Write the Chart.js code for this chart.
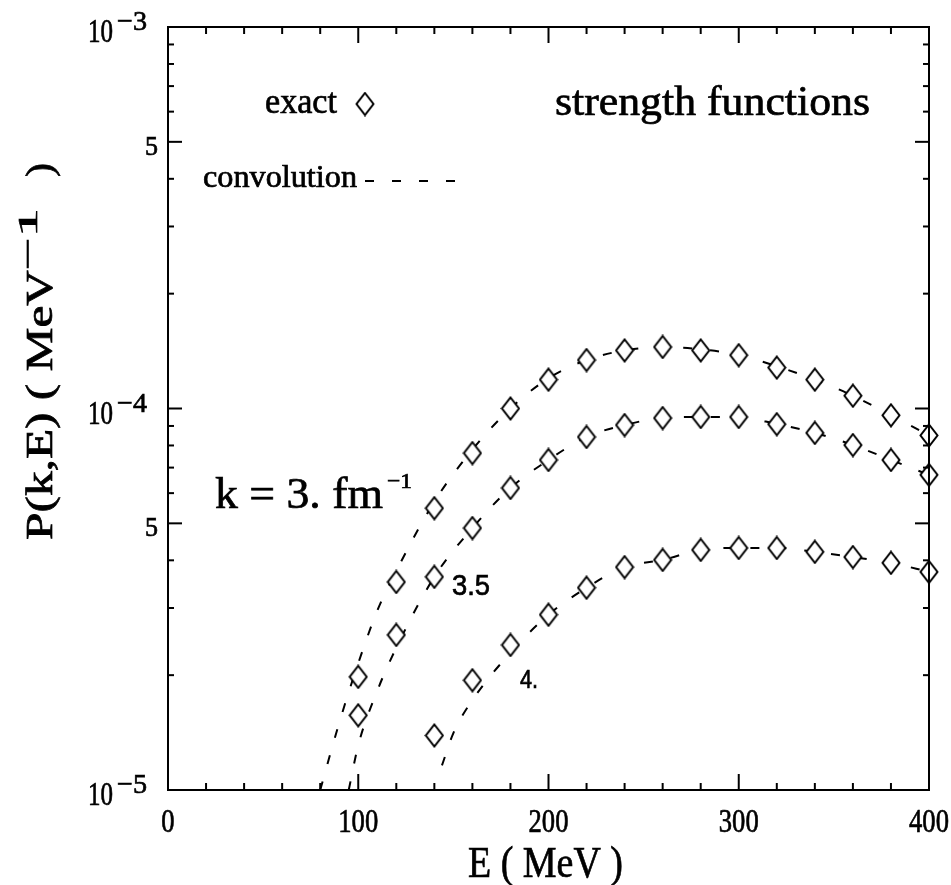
<!DOCTYPE html>
<html>
<head>
<meta charset="utf-8">
<title>strength functions</title>
<script src="https://cdn.jsdelivr.net/npm/chart.js@4.4.1/dist/chart.umd.min.js"></script>
<style>
    html, body { margin: 0; padding: 0; background: #fff; }
    #wrap { width: 951px; height: 885px; position: relative; }
</style>
</head>
<body>
<div id="wrap"><canvas id="chart"></canvas></div>
<script>
// energies of the exact points (MeV)
const energies = [100, 120, 140, 160, 180, 200, 220, 240, 260, 280, 300, 320, 340, 360, 380, 400];
const energies_k4 = [140, 160, 180, 200, 220, 240, 260, 280, 300, 320, 340, 360, 380, 400];

// exact strength P(k,E) in MeV^-1
const exact_k3 = [1.98e-5, 3.51e-5, 5.48e-5, 7.64e-5, 1.00e-4, 1.19e-4, 1.34e-4, 1.42e-4, 1.45e-4, 1.42e-4, 1.38e-4, 1.28e-4, 1.19e-4, 1.08e-4, 9.6e-5, 8.5e-5];
const exact_k35 = [1.57e-5, 2.55e-5, 3.62e-5, 4.86e-5, 6.19e-5, 7.33e-5, 8.42e-5, 9.05e-5, 9.44e-5, 9.5e-5, 9.5e-5, 9.1e-5, 8.63e-5, 8.02e-5, 7.33e-5, 6.7e-5];
const exact_k4 = [1.39e-5, 1.94e-5, 2.40e-5, 2.88e-5, 3.39e-5, 3.84e-5, 4.01e-5, 4.26e-5, 4.31e-5, 4.31e-5, 4.21e-5, 4.08e-5, 3.94e-5, 3.73e-5];

// convolution curves
const conv_e_k3 = [80, 90, 100, 110, 120, 140, 160, 180, 200, 220, 240, 260, 280, 300, 320, 340, 360, 380, 400];
const conv_k3 = [1.0e-5, 1.5e-5, 2.15e-5, 2.95e-5, 3.75e-5, 5.7e-5, 7.8e-5, 1.0e-4, 1.2e-4, 1.34e-4, 1.42e-4, 1.45e-4, 1.43e-4, 1.38e-4, 1.29e-4, 1.19e-4, 1.08e-4, 9.6e-5, 8.5e-5];
const conv_e_k35 = [95, 100, 110, 120, 140, 160, 180, 200, 220, 240, 260, 280, 300, 320, 340, 360, 380, 400];
const conv_k35 = [1.0e-5, 1.31e-5, 1.82e-5, 2.36e-5, 3.62e-5, 4.86e-5, 6.19e-5, 7.33e-5, 8.42e-5, 9.05e-5, 9.44e-5, 9.5e-5, 9.5e-5, 9.1e-5, 8.63e-5, 8.02e-5, 7.33e-5, 6.7e-5];
const conv_e_k4 = [144, 150, 160, 180, 200, 220, 240, 260, 280, 300, 320, 340, 360, 380, 400];
const conv_k4 = [1.16e-5, 1.41e-5, 1.72e-5, 2.29e-5, 2.88e-5, 3.39e-5, 3.84e-5, 4.01e-5, 4.26e-5, 4.31e-5, 4.31e-5, 4.21e-5, 4.08e-5, 3.94e-5, 3.73e-5];

// axis ticks
const x_ticks = [0, 20, 40, 60, 80, 100, 120, 140, 160, 180, 200, 220, 240, 260, 280, 300, 320, 340, 360, 380, 400];
const y_decades = [-5, -4];
const y_mantissas = [1, 2, 3, 4, 5, 6, 7, 8, 9];

const SERIF = "'Liberation Serif', 'DejaVu Serif', serif";
const SANS = "'Liberation Sans', 'DejaVu Sans', sans-serif";

// zip two arrays into {x, y} points
function points(xs, ys) {
    return xs.map((x, i) => ({ x: x, y: ys[i] }));
}

// hollow diamond used as the point marker
function make_diamond() {
    const cv = document.createElement("canvas");
    cv.width = 20;
    cv.height = 25;
    const c = cv.getContext("2d");
    c.beginPath();
    c.moveTo(10, 1.5);
    c.lineTo(18.5, 12.5);
    c.lineTo(10, 23.5);
    c.lineTo(1.5, 12.5);
    c.closePath();
    c.fillStyle = "#fff";
    c.fill();
    c.lineWidth = 2;
    c.strokeStyle = "#000";
    c.stroke();
    return cv;
}
const diamond = make_diamond();

// text squeezed or widened to a given width, with a thin outline so it reads heavier
function text(c, str, x, y, size, width, opts) {
    opts = opts || {};
    c.save();
    c.font = (opts.weight || "") + " " + size + "px " + (opts.family || SERIF);
    c.textAlign = "left";
    c.textBaseline = "alphabetic";
    const w = c.measureText(str).width;
    const sx = width ? width / w : 1;
    c.translate(x, y);
    if (opts.rotate) c.rotate(opts.rotate);
    c.scale(sx, 1);
    let dx = 0;
    if (opts.align === "right") dx = -w;
    else if (opts.align === "center") dx = -w / 2;
    c.fillStyle = "#000";
    c.strokeStyle = "#000";
    c.lineWidth = 0.7;
    c.fillText(str, dx, 0);
    c.strokeText(str, dx, 0);
    c.restore();
}

function seg(c, x1, y1, x2, y2) {
    c.beginPath();
    c.moveTo(x1, y1);
    c.lineTo(x2, y2);
    c.stroke();
}

// frame, inward ticks, tick labels and annotations
const frame_plugin = {
    id: "frame",
    afterDraw(chart) {
        const c = chart.ctx;
        const a = chart.chartArea;
        const xs = chart.scales.x;
        const ys = chart.scales.y;
        c.save();
        c.strokeStyle = "#000";
        c.lineWidth = 2;
        c.lineCap = "butt";
        c.strokeRect(a.left, a.top, a.right - a.left, a.bottom - a.top);

        // x axis ticks on bottom and top
        xs.ticks.forEach(t => {
            const px = xs.getPixelForValue(t.value);
            const major = t.value % 100 === 0;
            const len = major ? 16 : 7;
            seg(c, px, a.bottom, px, a.bottom - len);
            seg(c, px, a.top, px, a.top + len);
            if (major) {
                const lab = String(t.value);
                text(c, lab, px, 832, 33, 13.3 * lab.length, { align: "center" });
            }
        });

        // y axis ticks on left and right
        ys.ticks.forEach(t => {
            const v = t.value;
            const exp = Math.floor(Math.log10(v) + 1e-9);
            const mant = Math.round(v / Math.pow(10, exp));
            const py = ys.getPixelForValue(v);
            const len = (mant === 1 || mant === 5) ? 14 : 6;
            seg(c, a.left, py, a.left + len, py);
            seg(c, a.right, py, a.right - len, py);
            if (mant === 1) {
                text(c, "10", 113, py + 15, 33, 25, { align: "right" });
                text(c, "\u2212" + Math.abs(exp), 117, py + 3, 28, 30);
            } else if (mant === 5) {
                text(c, "5", 158, py + 13, 27, 13, { align: "right" });
            }
        });

        // axis titles
        text(c, "E ( MeV )", 468, 877, 45, 155);
        text(c, "P(k,E) ( MeV", 52, 540, 38, 270, { rotate: -Math.PI / 2 });
        text(c, "\u22121", 37, 270, 28, 62, { rotate: -Math.PI / 2 });
        text(c, ")", 52, 177, 38, 14, { rotate: -Math.PI / 2 });

        // legend
        text(c, "exact", 265, 113, 36, 72);
        c.drawImage(diamond, 365 - diamond.width / 2, 104 - diamond.height / 2);
        text(c, "convolution", 203, 187, 31, 154);
        c.lineWidth = 2;
        c.setLineDash([9, 18]);
        seg(c, 365, 181, 455, 181);
        c.setLineDash([]);

        // annotations
        text(c, "strength functions", 555, 115, 42, 315);
        text(c, "k = 3. fm", 215, 508, 44, 168);
        text(c, "\u22121", 387, 488, 22, 25);
        text(c, "3.5", 452, 595, 29, 38, { family: SANS });
        text(c, "4.", 520, 688, 26, 18, { family: SANS });
        c.restore();
    }
};

function exact_set(xs, ys) {
    return {
        data: points(xs, ys),
        showLine: false,
        pointStyle: diamond,
        pointRadius: 10,
        clip: false,
        order: 0
    };
}

function conv_set(xs, ys) {
    return {
        data: points(xs, ys),
        borderColor: "#000",
        borderWidth: 2,
        borderDash: [9, 18],
        pointRadius: 0,
        fill: false,
        cubicInterpolationMode: "monotone",
        order: 1
    };
}

window.ctx = document.getElementById("chart");
window.chart = new Chart(ctx, {
    type: "line",
    data: {
        datasets: [
            exact_set(energies, exact_k3),
            exact_set(energies, exact_k35),
            exact_set(energies_k4, exact_k4),
            conv_set(conv_e_k3, conv_k3),
            conv_set(conv_e_k35, conv_k35),
            conv_set(conv_e_k4, conv_k4)
        ]
    },
    options: {
        responsive: true,
        maintainAspectRatio: false,
        animation: false,
        layout: { padding: { top: 27, right: 22, left: 0, bottom: 0 } },
        plugins: { legend: { display: false }, tooltip: { enabled: false } },
        scales: {
            x: {
                type: "linear",
                min: 0,
                max: 400,
                ticks: { display: false },
                grid: { display: false },
                border: { display: false },
                afterBuildTicks: s => { s.ticks = x_ticks.map(v => ({ value: v })); },
                afterFit: s => { s.height = 95; }
            },
            y: {
                type: "logarithmic",
                min: 1e-5,
                max: 1e-3,
                ticks: { display: false },
                grid: { display: false },
                border: { display: false },
                afterBuildTicks: s => {
                    const ticks = [];
                    y_decades.forEach(d => y_mantissas.forEach(m => ticks.push({ value: m * Math.pow(10, d) })));
                    ticks.push({ value: 1e-3 });
                    s.ticks = ticks;
                },
                afterFit: s => { s.width = 168; }
            }
        }
    },
    plugins: [frame_plugin]
});
</script>
</body>
</html>
